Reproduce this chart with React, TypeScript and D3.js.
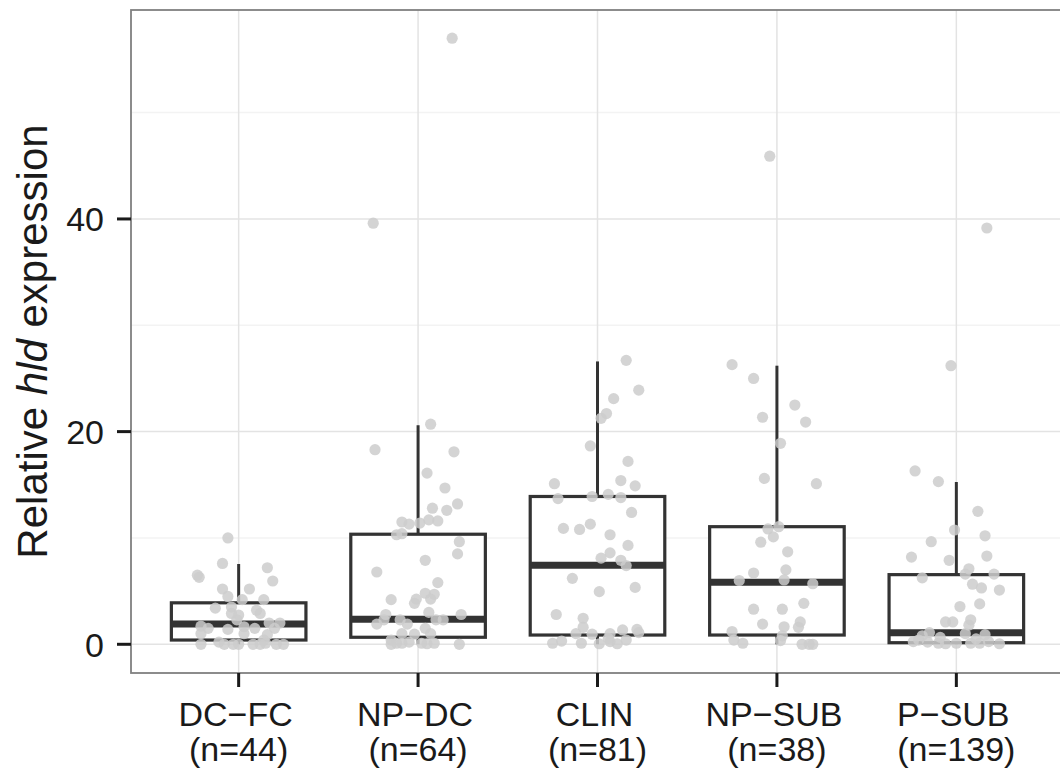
import React from "react";
import * as d3 from "d3";

const categories = ["DC−FC", "NP−DC", "CLIN", "NP−SUB", "P−SUB"];
const countLabels = ["(n=44)", "(n=64)", "(n=81)", "(n=38)", "(n=139)"];

// box statistics
const whiskerLow = [0, 0, 0, 0, 0];
const q1 = [0.4, 0.66, 0.87, 0.87, 0.15];
const median = [1.9, 2.35, 7.43, 5.83, 1.09];
const q3 = [3.9, 10.35, 13.9, 11.06, 6.55];
const whiskerHigh = [7.55, 20.6, 26.6, 26.2, 15.26];

// jittered points: values and horizontal jitter (in category units)
const dcfcValues = [10.0, 7.6, 6.5, 6.3, 7.2, 5.95, 5.2, 5.2, 4.5, 4.2, 4.2, 3.4, 3.5, 2.9, 2.75, 3.2, 2.9, 1.7, 1.5, 1.4, 1.65, 1.5, 2.0, 2.0, 1.5, 1.0, 1.0, 0.9, 0, 0, 0, 0, 0, 0, 0.1, 0, 0, 2.3, 0.4, 0.2];
const dcfcJitter = [-0.06, -0.09, -0.23, -0.22, 0.16, 0.19, -0.09, 0.06, -0.06, 0.02, 0.14, -0.13, -0.04, -0.04, 0, 0.1, 0.12, -0.21, -0.17, -0.06, 0.03, 0.09, 0.17, 0.23, 0.2, -0.21, 0.03, 0.16, -0.21, -0.08, -0.03, 0, 0.08, 0.12, 0.15, 0.21, 0.25, -0.01, 0.14, -0.11];

const npdcValues = [20.7, 18.3, 18.1, 16.1, 14.7, 13.2, 12.8, 12.6, 11.5, 11.3, 11.4, 11.7, 11.6, 10.3, 10.4, 9.65, 8.5, 7.9, 6.8, 5.8, 4.2, 4.25, 3.85, 4.8, 4.7, 4.25, 2.8, 3.0, 2.8, 1.9, 2.3, 2.3, 1.9, 2.3, 2.3, 1.0, 0.95, 1.5, 1.0, 0.4, 0.1, 0.1, 0.2, 0.1, 0.05, 0.1, 0, 0, 57.0, 39.6];
const npdcJitter = [0.07, -0.24, 0.2, 0.05, 0.15, 0.22, 0.08, 0.16, -0.09, -0.05, 0.01, 0.06, 0.11, -0.12, -0.09, 0.23, 0.22, 0.04, -0.23, 0.11, -0.15, -0.01, -0.02, 0.04, 0.09, 0.07, -0.18, 0.06, 0.24, -0.23, -0.19, -0.1, -0.06, 0.1, 0.14, -0.09, -0.02, 0.04, 0.07, -0.15, -0.12, -0.09, -0.05, 0.02, 0.05, 0.09, 0.23, -0.15, 0.19, -0.25];

const clinValues = [26.7, 23.9, 23.1, 21.7, 21.25, 18.65, 17.2, 15.4, 14.9, 15.1, 13.7, 13.9, 14.1, 13.8, 12.4, 10.9, 10.8, 11.3, 10.3, 9.3, 8.6, 8.1, 7.9, 7.4, 6.2, 4.95, 5.35, 2.8, 2.45, 1.6, 1.0, 0.95, 1.0, 1.35, 1.4, 1.1, 0.1, 0.3, 0.1, 0.05, 0.25, 0.05, 0.4, 0.55];
const clinJitter = [0.16, 0.23, 0.09, 0.05, 0.02, -0.04, 0.17, 0.13, 0.21, -0.24, -0.22, -0.03, 0.06, 0.13, 0.19, -0.19, -0.1, -0.04, 0.07, 0.17, 0.07, 0.02, 0.13, 0.16, -0.14, 0.01, 0.21, -0.23, -0.08, -0.08, -0.12, -0.03, 0.07, 0.14, 0.22, 0.23, -0.25, -0.2, -0.09, 0.01, 0.07, 0.11, 0.16, 0.06];

const npsubValues = [26.3, 25.0, 22.5, 21.35, 20.9, 18.9, 15.6, 15.1, 10.85, 11.06, 10.1, 9.6, 8.7, 6.7, 7.0, 6.0, 6.05, 5.7, 3.85, 3.3, 3.3, 1.9, 1.65, 2.1, 1.6, 1.2, 0.4, 0.1, 0.8, 0.35, 0, 0, 0, 45.9];
const npsubJitter = [-0.25, -0.13, 0.1, -0.08, 0.16, 0.02, -0.07, 0.22, -0.05, 0.01, -0.02, -0.09, 0.06, -0.13, 0.05, -0.21, 0.04, 0.2, 0.15, -0.13, 0.03, -0.08, 0.04, 0.13, 0.12, -0.25, -0.24, -0.19, 0.03, 0.02, 0.14, 0.18, 0.2, -0.04];

const psubValues = [16.3, 15.3, 12.5, 10.75, 10.2, 9.65, 8.2, 7.9, 8.3, 7.1, 6.6, 6.6, 6.25, 5.65, 5.3, 5.1, 3.55, 3.8, 2.1, 2.1, 2.3, 1.8, 1.1, 0.8, 1.0, 0.9, 0.25, 0.4, 0.2, 0.65, 0.1, 0.05, 0.1, 0.1, 0.5, 0.1, 0.25, 0.05, 39.15, 26.2];
const psubJitter = [-0.23, -0.1, 0.12, -0.01, 0.16, -0.14, -0.25, -0.04, 0.17, 0.07, 0.05, 0.21, -0.19, 0.09, 0.14, 0.24, 0.02, 0.13, -0.06, -0.02, 0.08, 0.07, -0.15, -0.19, 0.05, 0.16, -0.24, -0.21, -0.16, -0.09, -0.1, -0.06, 0, 0.08, 0.11, 0.13, 0.18, 0.24, 0.17, -0.03];

const pointValues = [dcfcValues, npdcValues, clinValues, npsubValues, psubValues];
const pointJitter = [dcfcJitter, npdcJitter, clinJitter, npsubJitter, psubJitter];

const yTicks = [0, 20, 40];
const yMinorTicks = [10, 30, 50];

const FONT = "'Liberation Sans', Arial, Helvetica, sans-serif";

export default function App() {
  const W = 1060;
  const H = 773;
  const left = 131, top = 10, right = 1064, bottom = 673;

  const x = d3.scalePoint<string>().domain(categories).range([left, right]).padding(0.6);
  const step = x.step();
  const y = d3.scaleLinear().domain([-2.7, 59.65]).range([bottom, top]);
  const boxHalf = step * 0.375;

  return (
    <svg width={W} height={H} style={{ position: "absolute", left: 0, top: 0, background: "#fff" }} fontFamily={FONT}>
      <rect x={0} y={0} width={W} height={H} fill="#fff" />
      {/* panel */}
      <rect x={left} y={top} width={right - left} height={bottom - top} fill="#fff" />
      {yMinorTicks.map((t) => (
        <line key={"mn" + t} x1={left} x2={right} y1={y(t)} y2={y(t)} stroke="#f3f3f3" strokeWidth={1.5} />
      ))}
      {yTicks.map((t) => (
        <line key={"mj" + t} x1={left} x2={right} y1={y(t)} y2={y(t)} stroke="#e3e3e3" strokeWidth={1.5} />
      ))}
      {categories.map((c) => (
        <line key={"vg" + c} x1={x(c)} x2={x(c)} y1={top} y2={bottom} stroke="#e3e3e3" strokeWidth={1.5} />
      ))}

      {/* boxes */}
      {categories.map((c, i) => {
        const cx = x(c) as number;
        return (
          <g key={"box" + c} stroke="#333333" fill="none">
            <line x1={cx} x2={cx} y1={y(q3[i])} y2={y(whiskerHigh[i])} strokeWidth={3} />
            <line x1={cx} x2={cx} y1={y(q1[i])} y2={y(whiskerLow[i])} strokeWidth={3} />
            <rect x={cx - boxHalf} y={y(q3[i])} width={boxHalf * 2} height={y(q1[i]) - y(q3[i])} fill="#fff" strokeWidth={3.2} />
            <line x1={cx - boxHalf} x2={cx + boxHalf} y1={y(median[i])} y2={y(median[i])} strokeWidth={7} />
          </g>
        );
      })}

      {/* points */}
      {categories.map((c, i) => {
        const cx = x(c) as number;
        const vals = pointValues[i];
        const jit = pointJitter[i];
        const n = Math.min(vals.length, jit.length);
        const pts = [];
        for (let k = 0; k < n; k++) {
          pts.push(
            <circle key={c + k} cx={cx + jit[k] * step} cy={y(vals[k])} r={5.6} fill="#cdcdcd" fillOpacity={0.85} />
          );
        }
        return <g key={"pts" + c}>{pts}</g>;
      })}

      {/* panel border */}
      <rect x={left} y={top} width={right - left} height={bottom - top} fill="none" stroke="#808080" strokeWidth={1.8} />

      {/* y axis */}
      {yTicks.map((t) => (
        <g key={"yt" + t}>
          <line x1={left - 14} x2={left} y1={y(t)} y2={y(t)} stroke="#1a1a1a" strokeWidth={3} />
          <text x={104} y={y(t)} dy="0.36em" textAnchor="end" fontSize={34} fill="#1a1a1a">
            {t}
          </text>
        </g>
      ))}

      {/* x axis */}
      {categories.map((c, i) => {
        const cx = x(c) as number;
        return (
          <g key={"xt" + c}>
            <line x1={cx} x2={cx} y1={bottom} y2={bottom + 14} stroke="#1a1a1a" strokeWidth={3} />
            <text x={cx - 3} y={726} textAnchor="middle" fontSize={34} fill="#1a1a1a">
              {c}
            </text>
            <text x={cx} y={761} textAnchor="middle" fontSize={34} fill="#1a1a1a">
              {countLabels[i]}
            </text>
          </g>
        );
      })}

      {/* y title */}
      <text transform={`translate(47, ${(top + bottom) / 2}) rotate(-90)`} textAnchor="middle" fontSize={42} fill="#1a1a1a">
        Relative <tspan fontStyle="italic">hld</tspan> expression
      </text>
    </svg>
  );
}
